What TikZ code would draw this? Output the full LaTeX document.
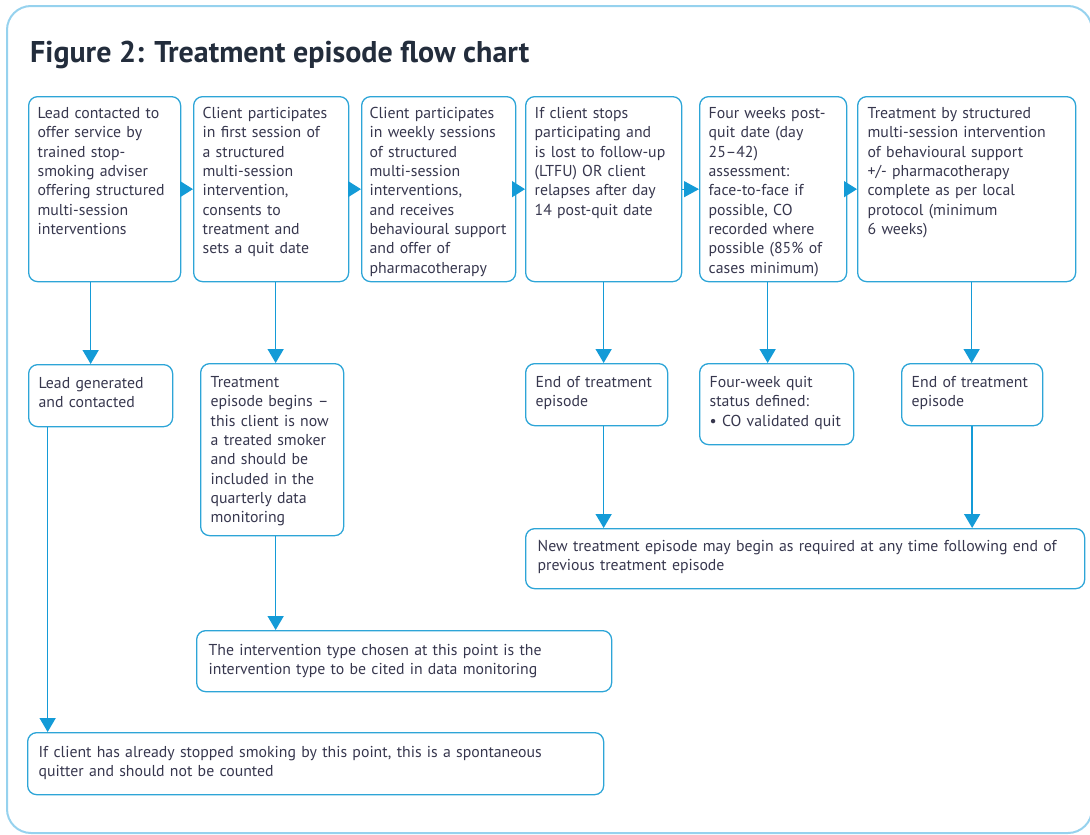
\documentclass[tikz,border=0pt]{standalone}
\usepackage{fontspec}
\setmainfont{PT Sans}
\usetikzlibrary{arrows.meta}
\definecolor{boxblue}{RGB}{45,165,215}
\definecolor{arrblue}{RGB}{20,155,215}
\definecolor{framecol}{RGB}{150,210,238}
\definecolor{txt}{RGB}{55,55,78}
\definecolor{titlecol}{RGB}{35,45,60}
\begin{document}
\begin{tikzpicture}[x=1pt,y=-1pt,
  box/.style={draw=boxblue, line width=1.3pt, rounded corners=9pt, anchor=north west,
    inner xsep=9pt, inner ysep=0pt, font=\fontsize{15.8}{19.3}\selectfont, text=txt, align=left},
  harr/.style={draw=arrblue, line width=1.3pt, -{Triangle[length=13pt,width=16pt]}},
  varr/.style={draw=arrblue, line width=1.6pt, -{Triangle[length=14pt,width=16pt]}},
]
\useasboundingbox (0,0) rectangle (1090,835);
\draw[framecol, line width=2pt, rounded corners=24pt] (7,6) rectangle (1092,833);

\node[anchor=base west, inner sep=0pt, text=titlecol, font=\fontsize{30}{34}\selectfont\bfseries] (title) at (30,62) {Figure 2: Treatment episode flow chart};

% top row
\node[box, text width=134pt, text height=22pt, text depth=163pt] (b1) at (28,96)
 {Lead contacted to\\offer service by\\trained stop-\\smoking adviser\\offering structured\\multi-session\\interventions};
\node[box, text width=137pt, text height=22pt, text depth=163pt] (b2) at (193,96)
 {Client participates\\in first session of\\a structured\\multi-session\\intervention,\\consents to\\treatment and\\sets a quit date};
\node[box, inner xsep=8pt, text width=138pt, text height=22pt, text depth=163pt] (b3) at (361,96)
 {Client participates\\in weekly sessions\\of structured\\multi-session\\interventions,\\and receives\\behavioural support\\and offer of\\pharmacotherapy};
\node[box, text width=138pt, text height=22pt, text depth=163pt] (b4) at (525,96)
 {If client stops\\participating and\\is lost to follow-up\\(LTFU) OR client\\relapses after day\\14 post-quit date};
\node[box, text width=129pt, text height=22pt, text depth=163pt] (b5) at (699,96)
 {Four weeks post-\\quit date (day\\25--42)\\assessment:\\face-to-face if\\possible, CO\\recorded where\\possible (85\% of\\cases minimum)};
\node[box, inner xsep=10pt, text width=198pt, text height=22pt, text depth=163pt] (b6) at (857,96)
 {Treatment by structured\\multi-session intervention\\of behavioural support\\+/- pharmacotherapy\\complete as per local\\protocol (minimum\\6 weeks)};

% second row
\node[box, inner xsep=10pt, text width=124pt, text height=24pt, text depth=38pt] (c1) at (28,364)
 {Lead generated\\and contacted};
\node[box, inner xsep=10pt, text width=123pt, text height=24pt, text depth=148pt] (c2) at (200,363)
 {Treatment\\episode begins --\\this client is now\\a treated smoker\\and should be\\included in the\\quarterly data\\monitoring};
\node[box, inner xsep=10pt, text width=122pt, text height=24pt, text depth=38pt] (c3) at (525,363)
 {End of treatment\\episode};
\node[box, inner xsep=10pt, text width=134pt, text height=24pt, text depth=57pt] (c4) at (699,363)
 {Four-week quit\\status defined:\\• CO validated quit};
\node[box, inner xsep=10pt, text width=121pt, text height=24pt, text depth=38pt] (c5) at (901,363)
 {End of treatment\\episode};

% lower boxes
\node[box, inner xsep=12pt, text width=535pt, text height=23pt, text depth=37pt] (d1) at (525,528)
 {New treatment episode may begin as required at any time following end of\\previous treatment episode};
\node[box, inner xsep=12pt, text width=391pt, text height=25pt, text depth=36pt] (e1) at (196,630)
 {The intervention type chosen at this point is the\\intervention type to be cited in data monitoring};
\node[box, inner xsep=11pt, text width=554pt, text height=25pt, text depth=37pt] (f1) at (27,732)
 {If client has already stopped smoking by this point, this is a spontaneous\\quitter and should not be counted};

% horizontal arrows
\draw[harr] (b1.east) -- (b2.west);
\draw[harr] (b2.east) -- (b3.west);
\draw[harr] (b3.east) -- (b4.west);
\draw[harr, -{Triangle[length=15pt,width=16pt]}] (b4.east) -- (b5.west);
\draw[harr] (b5.east) -- (b6.west);

% vertical arrows
\draw[varr] ([xshift=-14pt]b1.south) -- ([xshift=-14pt]b1.south |- c1.north);
\draw[varr] ([xshift=4.5pt]b2.south) -- ([xshift=4.5pt]b2.south |- c2.north);
\draw[varr] (b4.south) -- (b4.south |- c3.north);
\draw[varr] ([xshift=-5.5pt]b5.south) -- ([xshift=-5.5pt]b5.south |- c4.north);
\draw[varr] ([xshift=5pt]b6.south) -- ([xshift=5pt]b6.south |- c5.north);
\draw[varr] ([xshift=7pt]c3.south) -- ([xshift=7pt]c3.south |- d1.north);
\draw[varr] (c5.south) -- (c5.south |- d1.north);
\draw[varr] ([xshift=3.5pt]c2.south) -- ([xshift=3.5pt]c2.south |- e1.north);
\draw[varr] ([xshift=-53pt]c1.south) -- ([xshift=-53pt]c1.south |- f1.north);
\end{tikzpicture}
\end{document}
